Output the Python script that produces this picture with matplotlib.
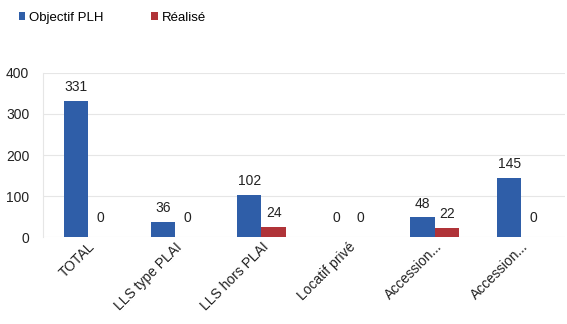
import matplotlib.pyplot as plt
import numpy as np

categories = ["TOTAL", "LLS type PLAI", "LLS hors PLAI", "Locatif privé", "Accession...", "Accession..."]
objectif = [331, 36, 102, 0, 48, 145]
realise = [0, 0, 24, 0, 22, 0]

blue = "#2f5ea8"
red = "#b03338"

plt.rcParams["font.family"] = ["Liberation Sans", "DejaVu Sans"]


def main():
    fig = plt.figure(figsize=(5.67, 3.24), dpi=100)
    ax = fig.add_axes([0.076, 0.268, 0.92, 0.507])

    x = np.arange(len(categories))
    w = 0.28
    b1 = ax.bar(x - w / 2, objectif, w, color=blue, label="Objectif PLH")
    b2 = ax.bar(x + w / 2, realise, w, color=red, label="Réalisé")

    for bars in (b1, b2):
        for bar in bars:
            h = bar.get_height()
            ax.annotate(f"{h:.0f}", (bar.get_x() + bar.get_width() / 2, h),
                        xytext=(0, 5 if h > 0 else 9), textcoords="offset points",
                        ha="center", va="bottom", fontsize=10, color="#222222")

    ax.set_xlim(-0.52, len(categories) - 0.5)
    ax.set_ylim(0, 400)
    ax.set_yticks([0, 100, 200, 300, 400])
    ax.yaxis.grid(True, color="#e6e6e6", linewidth=0.8)
    ax.set_axisbelow(True)
    for s in ["top", "right"]:
        ax.spines[s].set_visible(False)
    ax.spines["left"].set_color("#e6e6e6")
    ax.spines["bottom"].set_visible(False)
    ax.tick_params(length=0, labelsize=10, colors="#222222")
    ax.tick_params(axis="y", pad=10)
    ax.tick_params(axis="x", pad=2)
    ax.set_xticks(x)
    ax.set_xticklabels(categories, rotation=45, ha="right", rotation_mode="anchor")

    fig.legend(loc="upper left", bbox_to_anchor=(0.012, 1.0), ncol=2, frameon=False,
               fontsize=9.5, handlelength=0.5, handleheight=0.5, handletextpad=0.3,
               columnspacing=3.6)

    fig.savefig("out.png", dpi=100)


if __name__ == "__main__":
    main()
